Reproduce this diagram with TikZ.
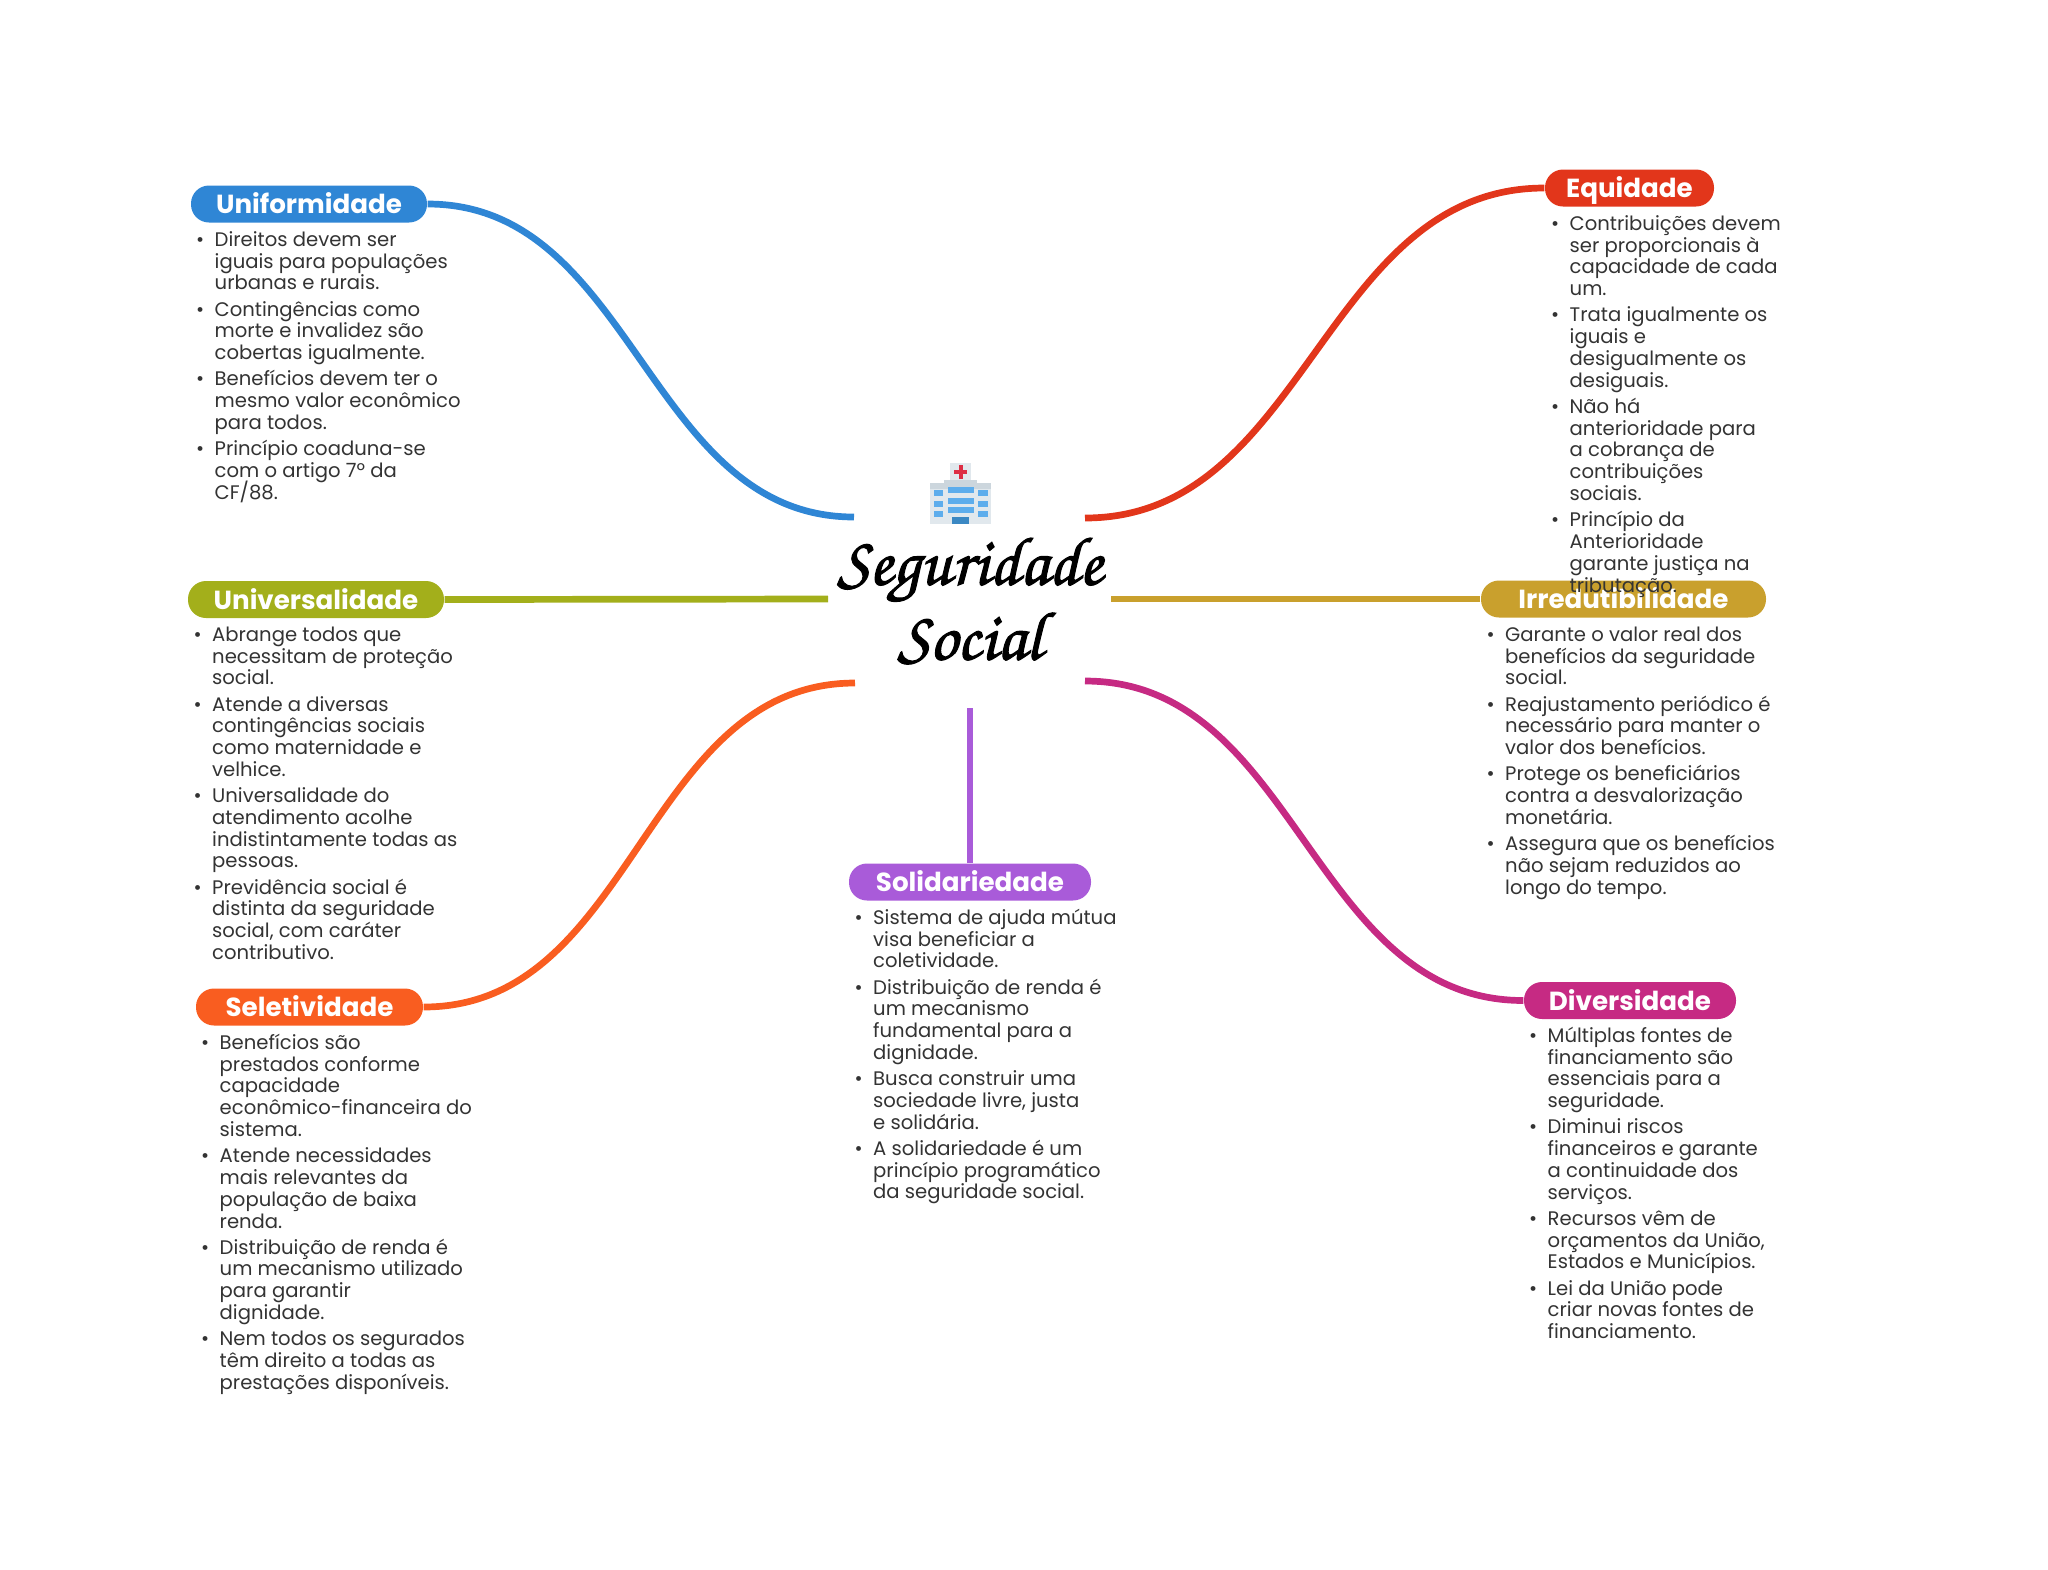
\documentclass[tikz,border=0pt]{standalone}
\usepackage[T1]{fontenc}
\usepackage{fontspec}
\setmainfont{Poppins}
\definecolor{cuniform}{HTML}{2F86D5}
\definecolor{cequid}{HTML}{E2361B}
\definecolor{cuniver}{HTML}{A3AF1B}
\definecolor{cirred}{HTML}{C9A02D}
\definecolor{cselet}{HTML}{F95D20}
\definecolor{cdivers}{HTML}{C62A83}
\definecolor{csolid}{HTML}{A95BD9}
\definecolor{ctext}{HTML}{333333}
\definecolor{hgrey}{HTML}{E1E8ED}
\definecolor{hband}{HTML}{CCD6DD}
\definecolor{hblue}{HTML}{5DADEC}
\definecolor{hdoor}{HTML}{3B88C3}
\definecolor{hred}{HTML}{DD2E44}
\newcommand{\itm}[1]{\rule{0pt}{5pt}\makebox[0pt][r]{\textbullet\hspace{3pt}}#1}
\newcommand{\listfont}{\fontsize{5.58}{6.2}\selectfont\lineskiplimit -5pt\relax}
\begin{document}
\begin{tikzpicture}[
    y=-1cm,
    pill/.style={rectangle, rounded corners=1.8mm, text=white, minimum height=3.7mm, inner sep=0pt, text height=6.4pt, text depth=1pt, font=\bfseries\fontsize{7.44}{8}\selectfont},
    list/.style={anchor=north west, align=left, inner sep=0pt, text=ctext, font=\listfont},
    link/.style={line width=0.67mm},
    title/.style={align=center, inner sep=0pt, font=\fontencoding{T1}\fontfamily{pzc}\fontseries{m}\fontshape{it}\fontsize{19.6}{21.3}\selectfont}
]
\useasboundingbox (0,0) rectangle (20.48,15.69);
% Hospital icon
\fill[hgrey] (9.50,4.63) rectangle (9.71,4.82);
\fill[hred] (9.54,4.70) rectangle (9.67,4.735);
\fill[hred] (9.59,4.65) rectangle (9.625,4.785);
\fill[hgrey] (9.30,4.83) rectangle (9.91,5.24);
\fill[hband] (9.30,4.83) rectangle (9.91,4.885);
\fill[hband] (9.44,4.80) rectangle (9.77,4.86);
\foreach \yy in {4.873,4.977,5.073} \fill[hblue] (9.477,\yy) rectangle ++(0.263,0.06);
\foreach \yy in {4.90,5.007,5.113} {
    \fill[hblue] (9.34,\yy) rectangle ++(0.093,0.06);
    \fill[hblue] (9.783,\yy) rectangle ++(0.094,0.06);
}
\fill[hdoor] (9.523,5.173) rectangle (9.693,5.24);
% Centre
\node[title] (centre) at (9.70,6.00) {\special{pdf:code 2 Tr 0.3 w}Seguridade\\Social\special{pdf:code 0 Tr 1 w}};
\coordinate (cuni) at (8.54,5.17);
\coordinate (cequ) at (10.85,5.18);
\coordinate (cunv) at (8.28,5.99);
\coordinate (cirr) at (11.11,5.99);
\coordinate (csel) at (8.55,6.83);
\coordinate (cdiv) at (10.85,6.81);
\coordinate (csol) at (9.70,7.08);
% Branch names
\node[pill, fill=cuniform, minimum width=23.6mm] (uniform) at (3.09,2.04) {Uniformidade};
\node[pill, fill=cequid, minimum width=16.9mm] (equid) at (16.295,1.88) {Equidade};
\node[pill, fill=cuniver, minimum width=25.6mm] (univer) at (3.16,5.995) {Universalidade};
\node[pill, fill=cirred, minimum width=28.5mm] (irred) at (16.235,5.99) {Irredutibilidade};
\node[pill, fill=cselet, minimum width=22.7mm] (selet) at (3.095,10.07) {Seletividade};
\node[pill, fill=csolid, minimum width=24.2mm] (solid) at (9.70,8.82) {Solidariedade};
\node[pill, fill=cdivers, minimum width=21.2mm] (divers) at (16.30,10.005) {Diversidade};
% Connectors
\draw[link, cuniform] (uniform.east) to[out=0, in=180] (cuni);
\draw[link, cequid] (cequ) to[out=0, in=180] (equid.west);
\draw[link, cuniver] (univer.east) -- (cunv);
\draw[link, cirred] (cirr) -- (irred.west);
\draw[link, cselet] (selet.east) to[out=0, in=180] (csel);
\draw[link, cdivers] (cdiv) to[out=0, in=180] (divers.west);
\draw[link, csolid] (csol) -- (solid.north -| csol);
% Lists
\node[list] (luniform) at (2.14,2.28) {\itm{Direitos devem ser}\\iguais para populações\\urbanas e rurais.\\[1.25pt]
\itm{Contingências como}\\morte e invalidez são\\cobertas igualmente.\\[1.25pt]
\itm{Benefícios devem ter o}\\mesmo valor econômico\\para todos.\\[1.25pt]
\itm{Princípio coaduna-se}\\com o artigo 7º da\\CF/88.};
\node[list] (lequid) at (15.69,2.12) {\itm{Contribuições devem}\\ser proporcionais à\\capacidade de cada\\um.\\[1.25pt]
\itm{Trata igualmente os}\\iguais e\\desigualmente os\\desiguais.\\[1.25pt]
\itm{Não há}\\anterioridade para\\a cobrança de\\contribuições\\sociais.\\[1.25pt]
\itm{Princípio da}\\Anterioridade\\garante justiça na\\tributação.};
\node[list] (luniver) at (2.115,6.23) {\itm{Abrange todos que}\\necessitam de proteção\\social.\\[1.25pt]
\itm{Atende a diversas}\\contingências sociais\\como maternidade e\\velhice.\\[1.25pt]
\itm{Universalidade do}\\atendimento acolhe\\indistintamente todas as\\pessoas.\\[1.25pt]
\itm{Previdência social é}\\distinta da seguridade\\social, com caráter\\contributivo.};
\node[list] (lirred) at (15.045,6.23) {\itm{Garante o valor real dos}\\benefícios da seguridade\\social.\\[1.25pt]
\itm{Reajustamento periódico é}\\necessário para manter o\\valor dos benefícios.\\[1.25pt]
\itm{Protege os beneficiários}\\contra a desvalorização\\monetária.\\[1.25pt]
\itm{Assegura que os benefícios}\\não sejam reduzidos ao\\longo do tempo.};
\node[list] (lselet) at (2.19,10.31) {\itm{Benefícios são}\\prestados conforme\\capacidade\\econômico-financeira do\\sistema.\\[1.25pt]
\itm{Atende necessidades}\\mais relevantes da\\população de baixa\\renda.\\[1.25pt]
\itm{Distribuição de renda é}\\um mecanismo utilizado\\para garantir\\dignidade.\\[1.25pt]
\itm{Nem todos os segurados}\\têm direito a todas as\\prestações disponíveis.};
\node[list] (lsolid) at (8.725,9.06) {\itm{Sistema de ajuda mútua}\\visa beneficiar a\\coletividade.\\[1.25pt]
\itm{Distribuição de renda é}\\um mecanismo\\fundamental para a\\dignidade.\\[1.25pt]
\itm{Busca construir uma}\\sociedade livre, justa\\e solidária.\\[1.25pt]
\itm{A solidariedade é um}\\princípio programático\\da seguridade social.};
\node[list] (ldivers) at (15.47,10.24) {\itm{Múltiplas fontes de}\\financiamento são\\essenciais para a\\seguridade.\\[1.25pt]
\itm{Diminui riscos}\\financeiros e garante\\a continuidade dos\\serviços.\\[1.25pt]
\itm{Recursos vêm de}\\orçamentos da União,\\Estados e Municípios.\\[1.25pt]
\itm{Lei da União pode}\\criar novas fontes de\\financiamento.};
\end{tikzpicture}
\end{document}
